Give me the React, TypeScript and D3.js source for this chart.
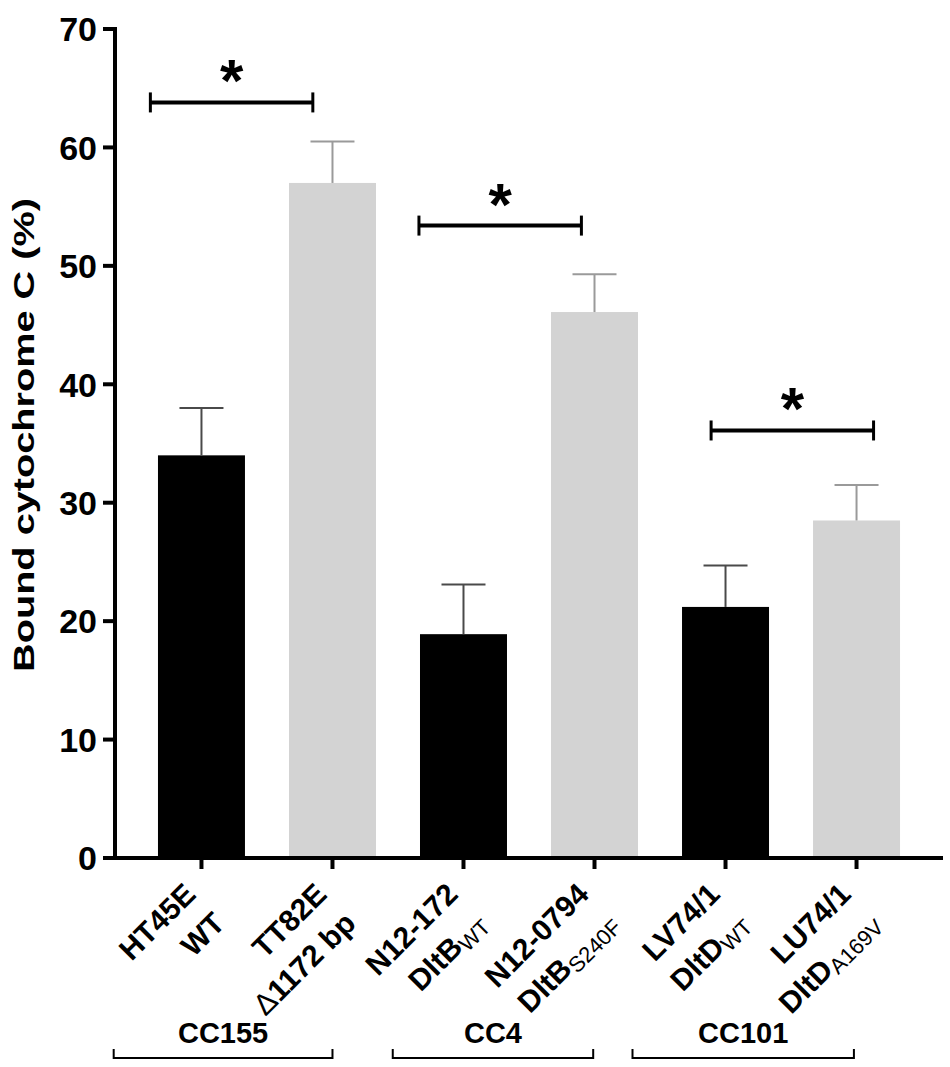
import * as d3 from "d3";

// strains, second label line (prefix / main / subscript), and group
const categories = ["HT45E", "TT82E", "N12-172", "N12-0794", "LV74/1", "LU74/1"];
const line2Prefix = ["", "Δ", "", "", "", ""];
const line2Main = ["WT", "1172 bp", "DltB", "DltB", "DltD", "DltD"];
const line2Sub = ["", "", "WT", "S240F", "WT", "A169V"];
const strainType = ["wt", "mutant", "wt", "mutant", "wt", "mutant"];

// bound cytochrome C (%) and error (SD)
const values = [34.0, 57.0, 18.9, 46.1, 21.2, 28.5];
const errors = [4.0, 3.5, 4.2, 3.2, 3.5, 3.0];

const yTicks = [0, 10, 20, 30, 40, 50, 60, 70];

// significance brackets, in bar-index units
const sigFrom = [-0.39, 1.66, 3.89];
const sigTo = [0.85, 2.9, 5.13];
const sigLevel = [63.8, 53.4, 36.1];
const sigLabel = ["*", "*", "*"];

// clonal complex groups under the axis
const groupNames = ["CC155", "CC4", "CC101"];
const groupFrom = [-0.67, 1.46, 3.29];
const groupTo = [1, 2.99, 4.98];

const FONT = "'Liberation Sans', Arial, Helvetica, sans-serif";

export default function App() {
  const width = 950;
  const height = 1067;

  const y = d3.scaleLinear().domain([0, 70]).range([858, 29]);
  const x = d3
    .scaleBand<string>()
    .domain(categories)
    .range([115, 943])
    .paddingInner(0.336)
    .paddingOuter(0.328);
  const bw = x.bandwidth();
  const cx = (c: string) => (x(c) ?? 0) + bw / 2;
  // fractional bar index -> pixel
  const xi = d3
    .scaleLinear()
    .domain([0, categories.length - 1])
    .range([cx(categories[0]), cx(categories[categories.length - 1])]);

  const color = (t: string) => (t === "wt" ? "#000000" : "#d3d3d3");
  const errColor = (t: string) => (t === "wt" ? "#4a4a4a" : "#9a9a9a");

  // second label line sits 41px further along the rotated y axis
  const lineShift = 41 * Math.SQRT1_2;

  return (
    <svg
      width={width}
      height={height}
      style={{ position: "absolute", left: 0, top: 0, background: "#fff" }}
      fontFamily={FONT}
    >
      {/* bars */}
      {categories.map((c, i) => (
        <rect
          key={c}
          x={x(c)}
          y={y(values[i])}
          width={bw}
          height={y(0) - y(values[i])}
          fill={color(strainType[i])}
        />
      ))}

      {/* error bars (upper half only) */}
      {categories.map((c, i) => (
        <g key={c} stroke={errColor(strainType[i])} strokeWidth={2}>
          <line x1={cx(c)} x2={cx(c)} y1={y(values[i])} y2={y(values[i] + errors[i])} />
          <line
            x1={cx(c) - 22}
            x2={cx(c) + 22}
            y1={y(values[i] + errors[i])}
            y2={y(values[i] + errors[i])}
          />
        </g>
      ))}

      {/* y axis */}
      <line x1={115} x2={115} y1={y(70) - 2} y2={y(0) + 2} stroke="#000" strokeWidth={4} />
      {yTicks.map((t) => (
        <g key={t} transform={`translate(0,${y(t)})`}>
          <line x1={103} x2={115} stroke="#000" strokeWidth={4} />
          <text x={97} dy="0.36em" textAnchor="end" fontSize={34} fontWeight="bold">
            {t}
          </text>
        </g>
      ))}
      <text
        transform="translate(34,435) rotate(-90)"
        textAnchor="middle"
        fontSize={29}
        fontWeight="bold"
        textLength={474}
        lengthAdjust="spacingAndGlyphs"
      >
        Bound cytochrome C (%)
      </text>

      {/* x axis */}
      <line x1={113} x2={943} y1={y(0)} y2={y(0)} stroke="#000" strokeWidth={4} />
      {categories.map((c) => (
        <line key={c} x1={cx(c)} x2={cx(c)} y1={y(0)} y2={y(0) + 11} stroke="#000" strokeWidth={4} />
      ))}

      {/* x labels, rotated -45deg, end-anchored */}
      {categories.map((c, i) => {
        const ax = cx(c) - 4;
        const ay = 896;
        return (
          <g key={c} fontWeight="bold" fontSize={30}>
            <text transform={`translate(${ax},${ay}) rotate(-45)`} textAnchor="end">
              {c}
            </text>
            <text
              transform={`translate(${ax + lineShift},${ay + lineShift}) rotate(-45)`}
              textAnchor="end"
            >
              {line2Prefix[i] && <tspan fontWeight="normal">{line2Prefix[i]}</tspan>}
              {line2Main[i]}
              {line2Sub[i] && (
                <tspan fontSize={22} fontWeight="normal" dy={5}>
                  {line2Sub[i]}
                </tspan>
              )}
            </text>
          </g>
        );
      })}

      {/* significance brackets */}
      {sigLevel.map((lv, i) => {
        const x1 = xi(sigFrom[i]);
        const x2 = xi(sigTo[i]);
        const yy = y(lv);
        return (
          <g key={i}>
            <line x1={x1} x2={x2} y1={yy} y2={yy} stroke="#000" strokeWidth={4} />
            <line x1={x1} x2={x1} y1={yy - 10} y2={yy + 10} stroke="#000" strokeWidth={3} />
            <line x1={x2} x2={x2} y1={yy - 10} y2={yy + 10} stroke="#000" strokeWidth={3} />
            <text x={(x1 + x2) / 2} y={yy - 1} textAnchor="middle" fontSize={60} fontWeight="bold">
              {sigLabel[i]}
            </text>
          </g>
        );
      })}

      {/* group brackets */}
      {groupNames.map((g, i) => {
        const x1 = xi(groupFrom[i]);
        const x2 = xi(groupTo[i]);
        return (
          <g key={g}>
            <text x={(x1 + x2) / 2} y={1043} textAnchor="middle" fontSize={29} fontWeight="bold">
              {g}
            </text>
            <path d={`M${x1},1049V1058H${x2}V1049`} fill="none" stroke="#000" strokeWidth={2} />
          </g>
        );
      })}
    </svg>
  );
}
